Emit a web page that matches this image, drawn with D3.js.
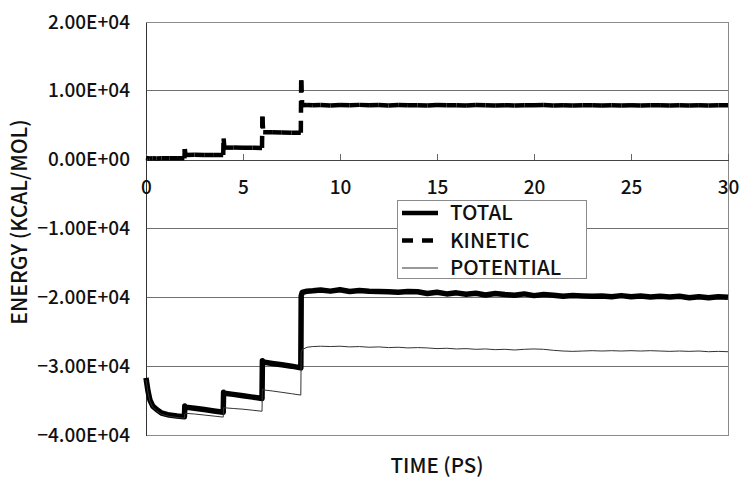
<!DOCTYPE html>
<html>
<head>
<meta charset="utf-8">
<script src="https://cdn.jsdelivr.net/npm/d3@7"></script>
<style>
  html, body { margin: 0; padding: 0; background: #fff; }
  svg { display: block; font-family: "Noto Sans CJK JP", "Liberation Sans", sans-serif; font-weight: 500; }
</style>
</head>
<body>
<div id="chart"></div>
<script>
// time in ps, shared by all three series (steps are drawn with very close times)
const timePs = [
  0, 0.1, 0.2, 0.35, 0.55, 0.8, 1.2, 1.6, 1.98,
  2.0, 2.04, 2.5, 3, 3.5, 3.98,
  4.0, 4.04, 4.5, 5, 5.5, 5.98,
  6.0, 6.04, 6.5, 7, 7.5, 7.98,
  8.0, 8.05, 8.3, 8.6,
  9, 9.5, 10, 10.5, 11, 11.5, 12, 12.5, 13, 13.5, 14, 14.5, 15, 15.5, 16, 16.5,
  17, 17.5, 18, 18.5, 19, 19.5, 20, 20.5, 21, 21.5, 22, 22.5, 23, 23.5, 24, 24.5,
  25, 25.5, 26, 26.5, 27, 27.5, 28, 28.5, 29, 29.5, 30
];
const totalKcal = [
  -31700, -33600, -34900, -35800, -36300, -36800, -37100, -37250, -37350,
  -35800, -35950, -36100, -36300, -36500, -36700,
  -33800, -33950, -34100, -34300, -34500, -34700,
  -29200, -29400, -29600, -29800, -30000, -30250,
  -19800, -19300, -19100, -19050,
  -18950, -19100, -18900, -19150, -19000, -19100, -19150, -19200, -19250, -19150, -19200, -19450,
  -19250, -19500, -19350, -19550, -19400, -19650, -19450, -19600, -19700, -19500, -19750, -19600,
  -19700, -19850, -19750, -19800, -19850, -19800, -19900, -19750, -19900, -19800, -19950, -19850,
  -19950, -19850, -20050, -19900, -20050, -19900, -20000
];
const kineticKcal = [
  250, 200, 180, 190, 180, 200, 190, 200, 190,
  1550, 680, 700, 680, 690, 670,
  3100, 1750, 1750, 1720, 1730, 1710,
  6250, 4000, 3980, 3950, 3920, 3900,
  11550, 7900, 7950, 7900,
  7950, 7880, 7940, 7900, 7960, 7890, 7930, 7870, 7950, 7900, 7920, 7880,
  7940, 7890, 7910, 7860, 7930, 7900, 7880, 7920, 7870, 7910, 7890, 7930,
  7880, 7900, 7860, 7920, 7890, 7870, 7910, 7880, 7900, 7860, 7890, 7920,
  7880, 7900, 7870, 7910, 7880, 7900, 7890
];
const potentialKcal = [
  -31950, -33800, -35100, -36000, -36500, -37000, -37300, -37450, -37550,
  -36900, -36850, -36950, -37100, -37250, -37400,
  -36000, -36050, -36150, -36250, -36400, -36550,
  -33300, -33450, -33600, -33800, -34000, -34200,
  -28000, -27600, -27250, -27150,
  -27100, -27150, -27100, -27200, -27150, -27250, -27200, -27300, -27250, -27350, -27300, -27350,
  -27450, -27400, -27500, -27450, -27550, -27500, -27600, -27550, -27650, -27550, -27500, -27550,
  -27700, -27800, -27850, -27800, -27750, -27800, -27750, -27800, -27750, -27800, -27750, -27800,
  -27850, -27800, -27850, -27800, -27900, -27850, -27900
];

const xTicks = [0, 5, 10, 15, 20, 25, 30];
const yTicks = [20000, 10000, 0, -10000, -20000, -30000, -40000];
const yTickLabels = ['2.00E+04', '1.00E+04', '0.00E+00', '\u22121.00E+04', '\u22122.00E+04', '\u22123.00E+04', '\u22124.00E+04'];
const legendLabels = ['TOTAL', 'KINETIC', 'POTENTIAL'];

const width = 741, height = 479;
const margin = { top: 22, right: 13, bottom: 44, left: 146 };
const innerW = width - margin.left - margin.right;
const innerH = height - margin.top - margin.bottom;

const svg = d3.select('#chart').append('svg')
  .attr('width', width)
  .attr('height', height);

const g = svg.append('g')
  .attr('transform', `translate(${margin.left},${margin.top})`);

const x = d3.scaleLinear().domain([0, 30]).range([0, innerW]);
const y = d3.scaleLinear().domain([-40000, 20000]).range([innerH, 0]);

// gridlines
g.append('g').attr('class', 'grid')
  .selectAll('line')
  .data(yTicks.filter(v => v !== 0 && v !== 20000 && v !== -40000))
  .enter().append('line')
  .attr('x1', 0).attr('x2', innerW)
  .attr('y1', d => y(d)).attr('y2', d => y(d))
  .attr('stroke', '#707070')
  .attr('stroke-width', 1)
  .attr('shape-rendering', 'crispEdges');

// plot frame
g.append('rect')
  .attr('x', 0).attr('y', 0)
  .attr('width', innerW).attr('height', innerH)
  .attr('fill', 'none')
  .attr('stroke', '#8a8a8a')
  .attr('stroke-width', 1)
  .attr('shape-rendering', 'crispEdges');

// y axis
const yAxisG = g.append('g')
  .call(d3.axisLeft(y)
    .tickValues(yTicks)
    .tickSize(0)
    .tickPadding(16)
    .tickFormat((d, i) => yTickLabels[i]));
yAxisG.select('.domain').attr('stroke', '#333').attr('shape-rendering', 'crispEdges');
yAxisG.selectAll('text')
  .attr('font-size', 19)
  .attr('fill', '#111')
  .attr('font-family', '"Noto Sans CJK JP", "Liberation Sans", sans-serif');

// x axis crossing at zero
const xAxisG = g.append('g')
  .attr('transform', `translate(0,${y(0)})`)
  .call(d3.axisBottom(x)
    .tickValues(xTicks)
    .tickSizeInner(-6)
    .tickSizeOuter(0)
    .tickPadding(21)
    .tickFormat(d3.format('d')));
xAxisG.select('.domain').attr('stroke', '#444').attr('shape-rendering', 'crispEdges');
xAxisG.selectAll('.tick line').attr('stroke', '#666').attr('shape-rendering', 'crispEdges');
xAxisG.selectAll('text')
  .attr('font-size', 19)
  .attr('fill', '#111')
  .attr('font-family', '"Noto Sans CJK JP", "Liberation Sans", sans-serif');

// axis titles
svg.append('text')
  .attr('transform', `translate(27,222) rotate(-90)`)
  .attr('text-anchor', 'middle')
  .attr('font-size', 21)
  .attr('fill', '#111')
  .text('ENERGY (KCAL/MOL)');

svg.append('text')
  .attr('x', margin.left + innerW / 2)
  .attr('y', 473)
  .attr('text-anchor', 'middle')
  .attr('font-size', 20.5)
  .attr('fill', '#111')
  .text('TIME (PS)');

// series
const pts = arr => timePs.map((t, i) => [t, arr[i]]);
const line = d3.line()
  .x(d => x(d[0]))
  .y(d => y(d[1]));

const plotG = g.append('g').attr('class', 'series');

plotG.append('path')
  .attr('d', line(pts(totalKcal)))
  .attr('fill', 'none')
  .attr('stroke', '#000')
  .attr('stroke-width', 5.5)
  .attr('stroke-linejoin', 'round');

// kinetic: dash pattern restarts at every data segment (like the original)
const kin = pts(kineticKcal);
plotG.append('g')
  .selectAll('line')
  .data(d3.pairs(kin))
  .enter().append('line')
  .attr('x1', d => x(d[0][0])).attr('y1', d => y(d[0][1]))
  .attr('x2', d => x(d[1][0])).attr('y2', d => y(d[1][1]))
  .attr('stroke', '#000')
  .attr('stroke-width', 4.5)
  .attr('stroke-dasharray', '12,8');

plotG.append('path')
  .attr('d', line(pts(potentialKcal)))
  .attr('fill', 'none')
  .attr('stroke', '#333')
  .attr('stroke-width', 1);

// legend
const legend = svg.append('g').attr('transform', 'translate(397,200)');
legend.append('rect')
  .attr('x', 0).attr('y', 0)
  .attr('width', 189).attr('height', 78)
  .attr('fill', '#fff')
  .attr('stroke', '#8a8a8a')
  .attr('shape-rendering', 'crispEdges');

const legendStyles = [
  { w: 4.5, dash: null, color: '#000' },
  { w: 4.5, dash: '11,9', color: '#000' },
  { w: 1, dash: null, color: '#333' }
];
legendLabels.forEach((label, i) => {
  const cy = 13 + i * 27.5;
  legend.append('line')
    .attr('x1', 5).attr('x2', 41)
    .attr('y1', cy).attr('y2', cy)
    .attr('stroke', legendStyles[i].color)
    .attr('stroke-width', legendStyles[i].w)
    .attr('stroke-dasharray', legendStyles[i].dash);
  legend.append('text')
    .attr('x', 53)
    .attr('y', cy)
    .attr('dy', '0.36em')
    .attr('font-size', 20.5)
    .attr('fill', '#111')
    .text(label);
});
</script>
</body>
</html>
